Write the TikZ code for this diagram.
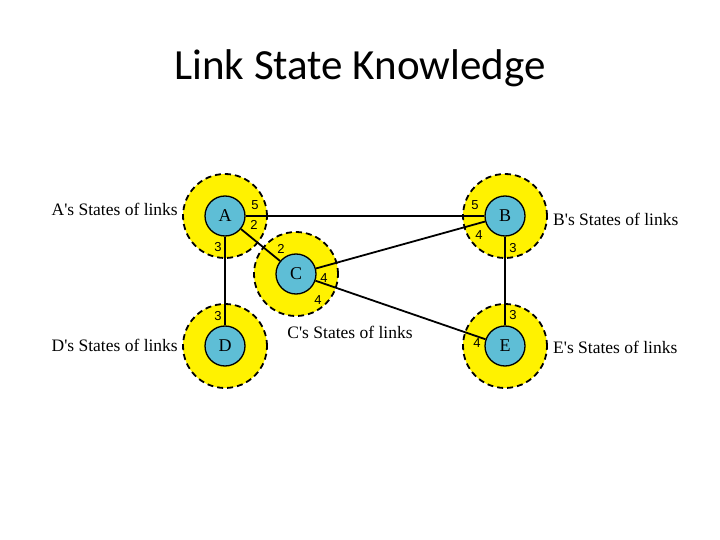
\documentclass[tikz,border=0pt]{standalone}
\usepackage{fontspec}
\setmainfont{Liberation Serif}
\newfontfamily\titlefont{Carlito}
\newfontfamily\numfont{Liberation Sans}
\definecolor{nodoblu}{RGB}{94,190,214}
\tikzset{
  zona/.style={circle,fill=yellow,draw=black,line width=1.8pt,dash pattern=on 6pt off 4pt,minimum size=84pt,inner sep=0pt},
  nodo/.style={circle,fill=nodoblu,draw=black,line width=1.3pt,minimum size=40pt,inner sep=0pt,font=\fontsize{18}{18}\selectfont},
  link/.style={line width=1.8pt},
  costo/.style={font=\numfont\fontsize{13}{13}\selectfont,inner sep=0pt},
  stato/.style={font=\fontsize{17.5}{18}\selectfont,inner sep=0pt}
}
\begin{document}
\begin{tikzpicture}[x=1pt,y=-1pt]
    \useasboundingbox (0,0) rectangle (720,540);
    % titolo
    \node[font=\titlefont\fontsize{43}{46}\selectfont] (titolo) at (360,68) {Link State Knowledge};
    % zone gialle
    \node[zona] (zA) at (225,216) {};
    \node[zona] (zB) at (505,216) {};
    \node[zona] (zC) at (296,274) {};
    \node[zona] (zD) at (225,346) {};
    \node[zona] (zE) at (505,346) {};
    % router
    \node[nodo] (A) at (zA) {A};
    \node[nodo] (B) at (zB) {B};
    \node[nodo] (C) at (zC) {C};
    \node[nodo] (D) at (zD) {D};
    \node[nodo] (E) at (zE) {E};
    % collegamenti
    \draw[link] (A) -- (B);
    \draw[link] (A) -- (C);
    \draw[link] (A) -- (D);
    \draw[link] (C) -- (B);
    \draw[link] (B) -- (E);
    \draw[link] (C) -- (E);
    % costi
    \node[costo] (a5) at (255,205) {5};
    \node[costo] (a2) at (254,225) {2};
    \node[costo] (a3) at (218,247) {3};
    \node[costo] (b5) at (475,205) {5};
    \node[costo] (b4) at (479,235) {4};
    \node[costo] (b3) at (513,248) {3};
    \node[costo] (c2) at (281,249) {2};
    \node[costo] (c4) at (324,278) {4};
    \node[costo] (c4b) at (318,300) {4};
    \node[costo] (d3) at (218,316) {3};
    \node[costo] (e3) at (513,315) {3};
    \node[costo] (e4) at (477,343) {4};
    % etichette
    \node[stato,anchor=east] (sA) at (178,209) {A\textquotesingle s States of links};
    \node[stato,anchor=west] (sB) at (553,219) {B\textquotesingle s States of links};
    \node[stato] (sC) at (350,332) {C\textquotesingle s States of links};
    \node[stato,anchor=east] (sD) at (178,345) {D\textquotesingle s States of links};
    \node[stato,anchor=west] (sE) at (553,347) {E\textquotesingle s States of links};
\end{tikzpicture}
\end{document}
